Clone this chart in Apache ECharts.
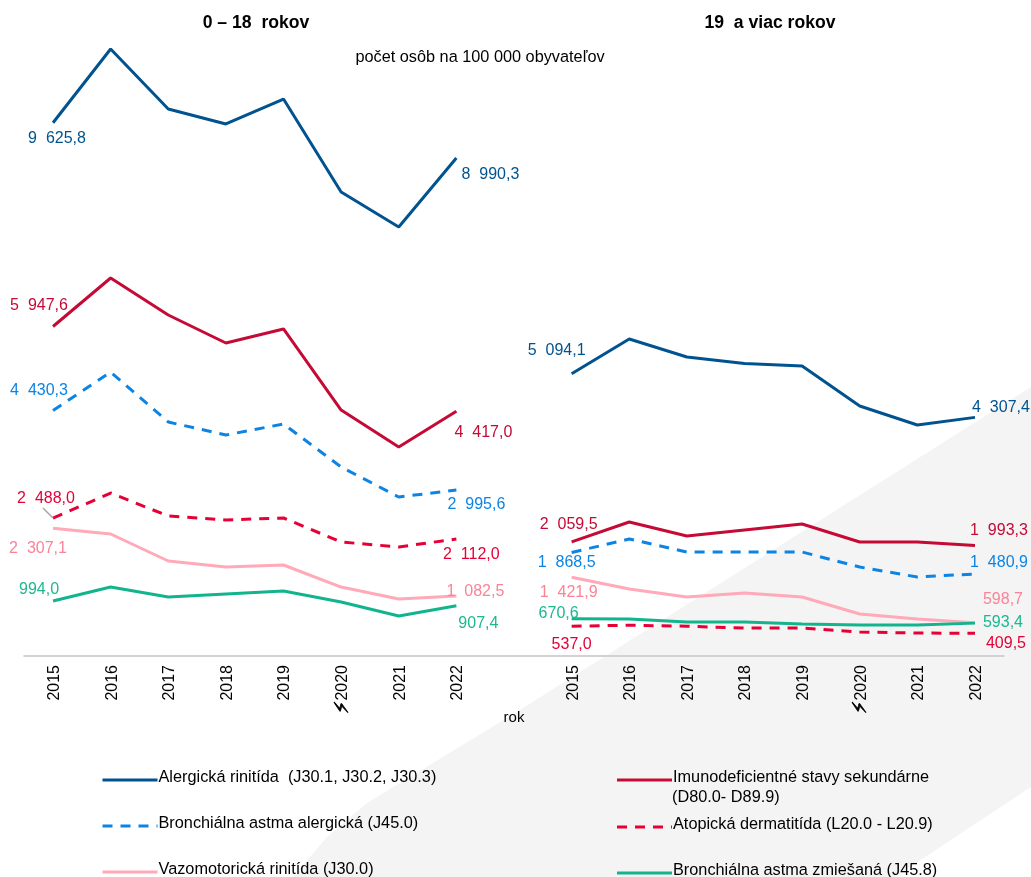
<!DOCTYPE html>
<html><head><meta charset="utf-8">
<style>html,body{margin:0;padding:0;background:#fff}#c{width:1031px;height:877px}</style>
<script src="https://cdn.jsdelivr.net/npm/echarts@6/dist/echarts.min.js"></script>
</head><body><div id="c"></div>
<script>
const years = ['2015','2016','2017','2018','2019','2020','2021','2022'];
const categories = [...years, '', ...years];

const rinitidaL = [9625.8,10957,9874,9603,10054,8375,7744,8990.3];
const rinitidaR = [5094.1,5722,5397,5280,5235,4513,4170,4307.4];
const imunoL = [5947.6,6823,6155,5650,5903,4440,3773,4417.0];
const imunoR = [2059.5,2419,2166,2274,2383,2058,2058,1993.3];
const astmaAlgL = [4430.3,5126,4224,3989,4188,3412,2870,2995.6];
const astmaAlgR = [1868.5,2112,1877,1877,1877,1606,1426,1480.9];
const atopL = [2488.0,2942,2527,2455,2491,2058,1968,2112.0];
const atopR = [537.0,556,537,505,505,433,415,409.5];
const vazoL = [2307.1,2202,1715,1606,1643,1245,1029,1082.5];
const vazoR = [1421.9,1209,1065,1137,1065,758,668,598.7];
const zmesL = [994.0,1245,1065,1119,1173,975,722,907.4];
const zmesR = [670.6,670,614,614,578,560,560,593.4];

// label offsets (px, from the point) for [left first, left last, right first, right last]
const defs = [
 {name:'Alergická rinitída  (J30.1, J30.2, J30.3)', l:rinitidaL, r:rinitidaR, color:'#00538f', label:'#00538f', dash:'solid',
  off:[[4,16],[34,17],[-15,-23],[26,-10]], lg:[101,770]},
 {name:'Bronchiálna astma alergická (J45.0)', l:astmaAlgL, r:astmaAlgR, color:'#0c84e4', label:'#0c84e4', dash:[10,8],
  off:[[-14,-20],[20,15],[-5,10],[24,-11]], lg:[101,816]},
 {name:'Vazomotorická rinitída (J30.0)', l:vazoL, r:vazoR, color:'#ffa9b9', label:'#fb8398', dash:'solid',
  off:[[-15,20],[19,-4],[-3,15],[28,-23]], lg:[101,862]},
 {name:'Imunodeficientné stavy sekundárne', l:imunoL, r:imunoR, color:'#c40a35', label:'#c40a35', dash:'solid',
  off:[[-14,-21],[27,21],[-3,-17],[24,-15]], lg:[615.5,770]},
 {name:'Atopická dermatitída (L20.0 - L20.9)', l:atopL, r:atopR, color:'#e60036', label:'#e60036', dash:[10,8],
  off:[[-7,-20],[15,16],[0,18],[31,10]], lg:[615.5,817]},
 {name:'Bronchiálna astma zmiešaná (J45.8)', l:zmesL, r:zmesR, color:'#12b48e', label:'#1cb890', dash:'solid',
  off:[[-14,-11],[22,18],[-13,-5],[28,-1]], lg:[615.5,863]}
];

const FONT = '"Liberation Sans", Arial, sans-serif';
function fmt(v){
  const [i,d] = v.toFixed(1).split('.');
  const s = i.length>3 ? i.slice(0,-3)+'\u00a0\u00a0'+i.slice(-3) : i;
  return s+','+d;
}
function seriesData(d){
  const vals = [...d.l, null, ...d.r];
  const labelled = {0:0,7:1,9:2,16:3};
  return vals.map((v,i)=>{
    if(v===null) return {value:null};
    if(i in labelled){
      const o = d.off[labelled[i]];
      return {value:v,
        label:{show:true,position:'inside',align:'center',verticalAlign:'middle',offset:o,
          color:d.label,fontSize:16,fontFamily:FONT,formatter:()=>fmt(v)}};
    }
    return {value:v};
  });
}
const chart = echarts.init(document.getElementById('c'),null,{renderer:'canvas'});
const titleBase = {fontFamily:FONT,color:'#000',fontSize:16.3};
chart.setOption({
  animation:false,
  backgroundColor:'#fff',
  graphic:[
    {type:'polygon',silent:true,z:-10,
     shape:{points:[[1031,387],[520,710],[433,763],[367,803],[327,837],[293,877],[895,877],[1031,787]]},
     style:{fill:'#f4f4f4'}},
    {type:'line',silent:true,z:5,shape:{x1:43,y1:508,x2:53,y2:518},style:{stroke:'#a6a6a6',lineWidth:1.5}}
  ],
  title:[
    {text:'0 – 18  rokov',left:251,top:9,textAlign:'center',textStyle:{...titleBase,fontWeight:'bold',fontSize:17.6}},
    {text:'19  a viac rokov',left:765,top:9,textAlign:'center',textStyle:{...titleBase,fontWeight:'bold',fontSize:17.6}},
    {text:'počet osôb na 100 000 obyvateľov',left:475,top:45,textAlign:'center',textStyle:{...titleBase,fontWeight:'normal'}},
    {text:'(D80.0- D89.9)',left:667,top:785,textStyle:{...titleBase,fontWeight:'normal'}}
  ],
  grid:{left:24.2,width:979.6,top:46.6,height:609.4},
  xAxis:{type:'category',data:categories,boundaryGap:true,
    axisLine:{lineStyle:{color:'#d2d2d2',width:2}},axisTick:{show:false},
    name:'rok',nameLocation:'middle',nameGap:54,nameMoveOverlap:false,
    nameTextStyle:{color:'#000',fontSize:15,fontFamily:FONT},
    axisLabel:{interval:0,rotate:90,margin:9,color:'#000',fontSize:16,fontFamily:FONT,padding:[3,0,0,0],
      formatter:(v)=> v==='2020' ? '{b|\u26A1}'+v : v,
      rich:{b:{fontSize:19,fontWeight:'bold',color:'#000',textBorderColor:'#000',textBorderWidth:0.8,fontFamily:'"DejaVu Sans"'}}}},
  yAxis:{type:'value',min:0,max:11000,show:false},
  legend:defs.map(d=>({
    data:[d.name],left:d.lg[0],top:d.lg[1],itemWidth:55,itemHeight:14,itemGap:0,padding:0,
    selectedMode:false,itemStyle:{opacity:0},
    lineStyle:{width:3},
    formatter:'{t|{name}}',
    textStyle:{color:'#000',fontFamily:FONT,fontSize:16.3,
      rich:{t:{color:'#000',fontFamily:FONT,fontSize:16.3,padding:[0,0,4,-4]}}}
  })),
  series:defs.map(d=>({
    name:d.name,type:'line',data:seriesData(d),connectNulls:false,silent:true,
    symbol:'circle',symbolSize:0,showSymbol:true,showAllSymbol:true,
    lineStyle:{color:d.color,width:3,type:d.dash},itemStyle:{color:d.color},
    label:{show:false},emphasis:{disabled:true}
  }))
});
</script></body></html>
